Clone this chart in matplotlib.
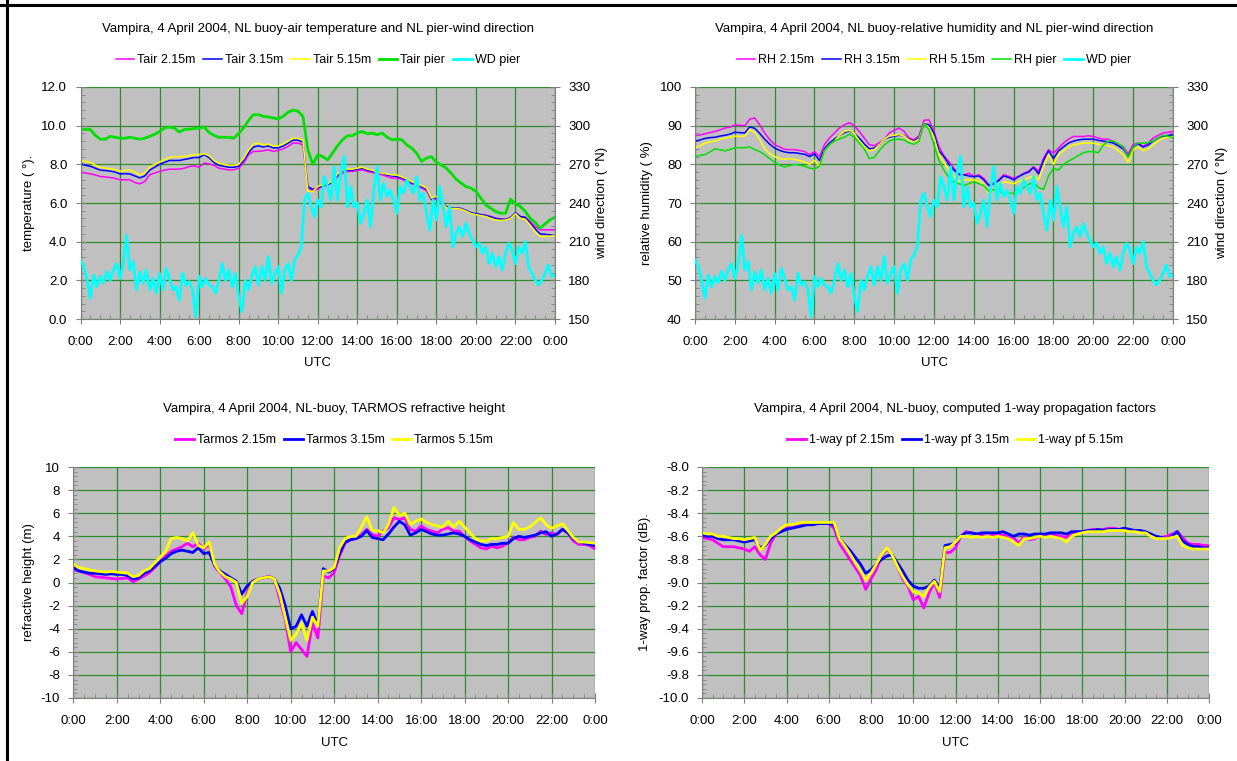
import numpy as np
import matplotlib
matplotlib.use('Agg')
import matplotlib.pyplot as plt
from matplotlib.ticker import MultipleLocator, FormatStrFormatter
from matplotlib.lines import Line2D

plt.rcParams['font.family'] = ['Liberation Sans', 'DejaVu Sans']
plt.rcParams['axes.unicode_minus'] = False

# ---------------- data ----------------
# 15-minute samples 0:00 .. 24:00 (97 values), wind direction at 10-minute samples (145 values)
hours_15 = np.arange(97) * 0.25
hours_10 = np.arange(145) / 6.0
time_ticks = list(range(0, 25, 2))
time_labels = ['0:00', '2:00', '4:00', '6:00', '8:00', '10:00', '12:00', '14:00',
               '16:00', '18:00', '20:00', '22:00', '0:00']

tair_215 = [7.6, 7.55, 7.51, 7.45, 7.37, 7.35, 7.32, 7.27, 7.2, 7.2, 7.2, 7.06,
            6.99, 7.11, 7.46, 7.55, 7.63, 7.7, 7.75, 7.75, 7.75, 7.8, 7.89, 7.92,
            7.85, 8.06, 8.03, 7.95, 7.8, 7.75, 7.72, 7.72, 7.8, 8.06, 8.49, 8.67,
            8.67, 8.7, 8.75, 8.67, 8.72, 8.8, 8.93, 9.1, 9.1, 9.01, 6.77, 6.65,
            6.72, 6.85, 6.94, 7.06, 7.37, 7.54, 7.63, 7.63, 7.68, 7.72, 7.63, 7.58,
            7.51, 7.46, 7.37, 7.29, 7.29, 7.23, 7.11, 6.99, 6.89, 6.77, 6.65, 6.16,
            6.2, 6.08, 5.78, 5.73, 5.73, 5.68, 5.59, 5.47, 5.42, 5.4, 5.38, 5.3,
            5.21, 5.18, 5.16, 5.21, 5.47, 5.3, 5.26, 5.04, 4.78, 4.61, 4.61, 4.61, 4.61]
tair_315 = [8.03, 7.95, 7.9, 7.8, 7.7, 7.68, 7.65, 7.6, 7.5, 7.52, 7.5, 7.4,
            7.3, 7.4, 7.7, 7.85, 8.0, 8.1, 8.2, 8.2, 8.2, 8.25, 8.3, 8.35,
            8.35, 8.5, 8.35, 8.1, 7.95, 7.9, 7.85, 7.85, 7.9, 8.2, 8.6, 8.9,
            8.95, 8.9, 8.95, 8.85, 8.85, 8.95, 9.1, 9.25, 9.25, 9.15, 6.85, 6.7,
            6.8, 6.9, 6.95, 7.1, 7.45, 7.65, 7.7, 7.7, 7.75, 7.8, 7.7, 7.65,
            7.6, 7.55, 7.45, 7.4, 7.38, 7.3, 7.2, 7.05, 6.95, 6.85, 6.72, 6.2,
            6.3, 6.1, 5.8, 5.75, 5.75, 5.72, 5.62, 5.5, 5.45, 5.4, 5.35, 5.28,
            5.2, 5.15, 5.15, 5.25, 5.5, 5.3, 5.25, 4.95, 4.65, 4.4, 4.38, 4.35, 4.35]
tair_515 = [8.2, 8.15, 8.1, 7.95, 7.85, 7.8, 7.78, 7.72, 7.65, 7.68, 7.7, 7.6,
            7.45, 7.55, 7.85, 8.0, 8.12, 8.25, 8.35, 8.4, 8.4, 8.4, 8.45, 8.5,
            8.5, 8.55, 8.45, 8.2, 8.05, 8.0, 7.95, 7.95, 8.0, 8.3, 8.75, 9.05,
            9.1, 9.0, 9.05, 8.95, 8.95, 9.05, 9.2, 9.35, 9.35, 9.25, 6.6, 6.6,
            6.85, 6.95, 7.0, 7.15, 7.5, 7.7, 7.75, 7.75, 7.8, 7.85, 7.75, 7.7,
            7.6, 7.55, 7.5, 7.45, 7.45, 7.35, 7.25, 7.1, 7.0, 6.9, 6.78, 6.25,
            6.35, 6.1, 5.75, 5.72, 5.72, 5.68, 5.58, 5.45, 5.4, 5.35, 5.3, 5.2,
            5.12, 5.1, 5.12, 5.2, 5.45, 5.2, 5.15, 4.85, 4.5, 4.25, 4.28, 4.28, 4.3]
tair_pier = [9.82, 9.8, 9.8, 9.5, 9.3, 9.3, 9.45, 9.4, 9.35, 9.35, 9.4, 9.35,
             9.3, 9.35, 9.45, 9.55, 9.7, 9.88, 9.93, 9.88, 9.67, 9.8, 9.82, 9.85,
             9.88, 9.93, 9.65, 9.5, 9.4, 9.4, 9.4, 9.35, 9.6, 9.88, 10.27, 10.57,
             10.57, 10.48, 10.45, 10.4, 10.35, 10.48, 10.7, 10.8, 10.75, 10.48, 8.75, 8.0,
             8.5, 8.4, 8.23, 8.58, 8.96, 9.27, 9.48, 9.48, 9.62, 9.7, 9.58, 9.62,
             9.53, 9.62, 9.41, 9.27, 9.3, 9.27, 9.01, 8.84, 8.58, 8.15, 8.32, 8.4,
             8.1, 7.97, 7.8, 7.54, 7.23, 7.03, 6.85, 6.77, 6.6, 6.25, 5.9, 5.73,
             5.56, 5.47, 5.47, 6.2, 5.95, 5.82, 5.56, 5.2, 4.99, 4.7, 4.92, 5.13, 5.27]

wd_pier = [195.8, 190.6, 180, 166, 184, 175, 183, 178, 187, 180, 188, 193,
           181.5, 193, 215, 188, 194.5, 172.5, 186.7, 177.7, 188, 172.5, 181.5, 170,
           185.4, 172.5, 189.3, 181.5, 172.5, 175, 164.7, 185.4, 176.4, 179, 172.5, 151.8,
           183, 175, 181.5, 176.4, 175, 170, 180, 193, 180, 188, 175, 185.4,
           167.3, 155.7, 180, 172.5, 183, 190.6, 176.4, 190.6, 180, 198.4, 177.7, 185.4,
           190.6, 170, 188, 193, 180, 195.8, 199.7, 206, 242.3, 247.5, 237, 229.4,
           242.3, 237, 260.4, 252.7, 242.3, 268.1, 242.3, 263.3, 276.2, 237, 252.7, 237,
           240, 224.2, 232, 242.3, 221.6, 250, 268.1, 242.3, 255.3, 245, 250, 242.3,
           232, 252.7, 247.5, 257.8, 252.7, 247.5, 260.4, 242.3, 247.5, 232, 219, 242.3,
           226.8, 252.7, 237, 221.6, 237, 206, 216.5, 221.6, 214, 224.2, 216.5, 211.3,
           206, 208.7, 201, 206, 193, 201, 190.6, 198.4, 188, 201, 208.7, 203.5,
           193, 206, 201, 210, 190.6, 185.4, 180, 176.4, 180, 185.4, 192, 183, 184]

rh_215 = [87.4, 87.6, 87.9, 88.2, 88.5, 88.9, 89.4, 89.6, 90.2, 90.1, 90.0, 91.7,
          92.0, 90.2, 88.1, 86.4, 85.1, 84.5, 83.9, 83.8, 83.8, 83.6, 83.3, 82.5,
          83.3, 82.0, 85.1, 86.8, 88.1, 89.4, 90.2, 90.8, 90.0, 88.5, 86.8, 85.1,
          84.8, 85.6, 86.4, 88.1, 88.8, 89.4, 88.5, 86.8, 86.4, 87.4, 91.4, 91.5,
          88.5, 84.6, 82.2, 80.7, 79.0, 77.3, 77.3, 77.7, 76.9, 77.3, 76.4, 74.7,
          75.1, 76.0, 77.3, 76.9, 76.4, 76.9, 77.7, 78.2, 79.4, 78.2, 81.6, 83.8,
          82.9, 84.2, 85.5, 86.5, 87.2, 87.2, 87.2, 87.4, 87.2, 86.8, 86.5, 86.5,
          85.9, 85.2, 84.6, 82.7, 85.1, 85.5, 84.6, 85.5, 86.8, 87.5, 88.1, 88.3, 88.5]
rh_315 = [86.0, 86.3, 86.7, 86.9, 87.0, 87.3, 87.5, 87.8, 88.3, 88.2, 88.1, 89.7,
          89.3, 88.0, 86.5, 85.2, 84.2, 83.6, 83.2, 83.0, 83.0, 82.8, 82.6, 82.0,
          82.7, 81.0, 84.0, 85.5, 86.5, 87.5, 88.2, 88.6, 88.0, 86.8, 85.3, 84.0,
          84.2, 85.0, 86.5, 87.0, 87.3, 87.5, 87.4, 86.5, 86.0, 86.8, 90.5, 90.2,
          88.0, 83.5, 82.0, 80.0, 78.5, 77.5, 77.3, 77.0, 76.8, 77.0, 76.0, 74.5,
          75.0, 75.8, 77.0, 76.6, 76.0, 76.8, 77.5, 78.0, 79.2, 77.5, 81.0, 83.5,
          81.5, 83.5, 84.5, 85.5, 86.0, 86.3, 86.5, 86.5, 86.5, 86.2, 86.0, 85.8,
          85.5, 84.8, 84.0, 82.0, 84.5, 85.3, 84.5, 85.0, 86.0, 86.8, 87.3, 87.5, 87.6]
rh_515 = [84.3, 84.8, 85.5, 85.8, 86.0, 86.5, 86.8, 87.0, 87.3, 87.2, 87.3, 89.0,
          88.3, 86.5, 84.0, 82.8, 82.0, 81.5, 81.3, 81.5, 81.3, 81.0, 80.6, 80.0,
          81.0, 79.5, 83.5, 85.0, 86.0, 87.5, 88.5, 88.8, 88.0, 86.0, 84.5, 83.5,
          83.8, 85.0, 86.5, 87.3, 87.5, 87.7, 87.3, 86.3, 85.8, 86.5, 90.5, 89.5,
          87.0, 82.5, 80.5, 78.5, 77.0, 75.5, 76.0, 76.0, 76.0, 75.8, 74.8, 72.5,
          73.5, 74.5, 75.5, 75.3, 75.0, 75.5, 76.0, 76.5, 77.0, 76.0, 79.5, 82.5,
          80.0, 82.5, 83.5, 84.5, 85.0, 85.3, 85.5, 85.5, 85.5, 85.2, 85.0, 84.8,
          84.5, 83.5, 82.5, 80.5, 83.8, 84.5, 83.5, 84.0, 85.0, 86.0, 86.8, 87.0, 87.0]
rh_pier = [82.0, 82.3, 82.5, 83.2, 84.0, 83.8, 83.5, 83.8, 84.3, 84.3, 84.3, 84.5,
           83.8, 83.3, 82.5, 81.5, 80.5, 79.8, 79.3, 79.7, 80.0, 79.8, 79.5, 79.0,
           78.8, 79.5, 83.5, 85.0, 86.0, 86.6, 87.0, 87.8, 87.0, 85.5, 84.0, 81.5,
           81.8, 83.5, 85.0, 86.0, 86.5, 86.5, 86.3, 85.5, 85.2, 86.0, 90.5, 89.0,
           85.0, 81.0, 78.5, 76.5, 75.5, 75.0, 74.5, 75.0, 75.5, 75.0, 74.5, 73.0,
           73.5, 73.0, 72.5, 72.5, 72.5, 73.3, 74.0, 74.8, 75.5, 74.0, 73.5, 77.0,
           79.0, 78.5, 80.0, 80.8, 81.5, 82.3, 83.0, 83.3, 83.3, 83.0, 85.0, 86.0,
           86.0, 85.3, 84.5, 81.8, 84.5, 85.5, 85.5, 85.6, 86.0, 86.8, 87.5, 87.3, 86.8]

tarmos_215 = [1.1, 1.0, 0.85, 0.7, 0.5, 0.45, 0.4, 0.35, 0.3, 0.35, 0.4, 0.05,
              0.3, 0.55, 0.85, 1.3, 1.8, 2.3, 2.7, 2.9, 3.1, 3.4, 3.1, 3.4,
              2.9, 3.3, 1.4, 0.85, 0.3, -0.4, -2.0, -2.7, -0.9, 0.1, 0.3, 0.4,
              0.55, 0.3, -1.45, -3.2, -6.0, -5.2, -5.8, -6.4, -3.5, -4.8, 0.55, 0.4,
              0.85, 2.3, 3.4, 3.7, 3.8, 4.15, 4.6, 4.15, 4.0, 4.45, 4.75, 5.6,
              5.45, 5.6, 4.6, 4.45, 4.9, 4.6, 4.45, 4.3, 4.6, 4.75, 4.45, 4.45,
              4.0, 3.6, 3.3, 3.0, 2.9, 3.15, 3.0, 3.15, 3.45, 3.9, 3.7, 3.7,
              3.9, 4.0, 4.45, 4.15, 4.3, 4.15, 4.6, 4.3, 3.6, 3.3, 3.3, 3.2, 2.9]
tarmos_315 = [1.3, 1.0, 0.9, 0.8, 0.8, 0.75, 0.7, 0.75, 0.7, 0.7, 0.6, 0.3,
              0.4, 0.8, 1.0, 1.4, 1.8, 2.1, 2.5, 2.7, 2.8, 2.7, 2.6, 3.0,
              2.5, 2.6, 1.5, 1.0, 0.7, 0.4, 0.1, -1.0, -0.3, 0.1, 0.3, 0.4,
              0.5, 0.3, -0.5, -2.0, -4.0, -3.8, -2.8, -3.8, -2.5, -3.7, 1.2, 0.9,
              1.2, 2.5, 3.5, 3.7, 3.8, 4.0, 4.5, 3.9, 3.8, 3.7, 4.2, 4.8,
              5.3, 5.0, 4.1, 4.3, 4.6, 4.4, 4.2, 4.1, 4.1, 4.2, 4.3, 4.2,
              4.0, 3.7, 3.5, 3.3, 3.2, 3.3, 3.3, 3.4, 3.4, 3.8, 4.0, 3.9,
              4.0, 4.1, 4.3, 4.4, 4.0, 4.2, 4.6, 4.3, 3.8, 3.5, 3.4, 3.3, 3.2]
tarmos_515 = [1.6, 1.3, 1.2, 1.1, 1.0, 0.95, 0.9, 0.95, 0.9, 0.85, 0.8, 0.5,
              0.6, 1.0, 1.2, 1.7, 2.2, 2.7, 3.8, 3.9, 3.8, 3.6, 4.3, 3.2,
              3.0, 3.5, 1.6, 0.9, 0.5, 0.3, 0.0, -1.8, -1.2, 0.0, 0.3, 0.4,
              0.5, 0.3, -1.0, -3.0, -5.0, -4.5, -3.5, -5.0, -3.0, -3.8, 1.0, 1.0,
              1.3, 3.0, 3.8, 4.0, 4.0, 4.8, 5.7, 4.5, 4.5, 4.3, 5.0, 6.5,
              5.8, 6.0, 5.0, 5.3, 5.5, 5.2, 5.0, 4.9, 4.8, 5.3, 4.8, 5.3,
              4.8, 4.3, 3.8, 3.6, 3.6, 3.8, 3.8, 3.9, 4.0, 5.2, 4.6, 4.6,
              4.8, 5.2, 5.6, 5.0, 4.7, 4.9, 5.1, 4.5, 3.9, 3.5, 3.5, 3.45, 3.4]

pf_215 = [-8.61, -8.62, -8.63, -8.66, -8.69, -8.69, -8.69, -8.70, -8.71, -8.73, -8.69, -8.76,
          -8.80, -8.66, -8.58, -8.55, -8.53, -8.52, -8.51, -8.50, -8.49, -8.49, -8.48, -8.49,
          -8.49, -8.53, -8.66, -8.73, -8.80, -8.87, -8.94, -9.06, -8.97, -8.89, -8.77, -8.71,
          -8.76, -8.86, -8.97, -9.03, -9.15, -9.12, -9.22, -9.09, -9.00, -9.13, -8.74, -8.74,
          -8.70, -8.60, -8.56, -8.57, -8.58, -8.59, -8.60, -8.59, -8.58, -8.59, -8.60, -8.61,
          -8.66, -8.60, -8.63, -8.62, -8.60, -8.59, -8.58, -8.59, -8.60, -8.61, -8.57, -8.56,
          -8.56, -8.55, -8.54, -8.55, -8.54, -8.53, -8.53, -8.54, -8.54, -8.55, -8.55, -8.56,
          -8.57, -8.59, -8.61, -8.61, -8.60, -8.58, -8.56, -8.61, -8.66, -8.67, -8.67, -8.68, -8.68]
pf_315 = [-8.59, -8.60, -8.60, -8.62, -8.63, -8.63, -8.63, -8.64, -8.65, -8.64, -8.63, -8.70,
          -8.68, -8.62, -8.58, -8.56, -8.54, -8.53, -8.52, -8.51, -8.50, -8.50, -8.49, -8.49,
          -8.49, -8.50, -8.62, -8.67, -8.72, -8.78, -8.84, -8.92, -8.89, -8.84, -8.80, -8.77,
          -8.76, -8.83, -8.90, -8.98, -9.03, -9.05, -9.05, -9.03, -8.98, -9.05, -8.68, -8.67,
          -8.66, -8.60, -8.57, -8.57, -8.58, -8.57, -8.57, -8.57, -8.57, -8.56, -8.58, -8.60,
          -8.58, -8.58, -8.59, -8.58, -8.58, -8.58, -8.57, -8.57, -8.57, -8.58, -8.56, -8.56,
          -8.56, -8.55, -8.55, -8.54, -8.55, -8.54, -8.54, -8.54, -8.53, -8.54, -8.55, -8.55,
          -8.56, -8.58, -8.60, -8.61, -8.62, -8.60, -8.56, -8.64, -8.67, -8.69, -8.69, -8.70, -8.70]
pf_515 = [-8.57, -8.58, -8.58, -8.60, -8.60, -8.61, -8.62, -8.62, -8.63, -8.62, -8.61, -8.72,
          -8.67, -8.60, -8.57, -8.53, -8.50, -8.50, -8.49, -8.48, -8.48, -8.48, -8.48, -8.48,
          -8.48, -8.48, -8.62, -8.68, -8.75, -8.83, -8.90, -8.98, -8.92, -8.84, -8.76, -8.70,
          -8.76, -8.86, -8.95, -9.02, -9.08, -9.09, -9.12, -9.04, -8.99, -9.08, -8.70, -8.69,
          -8.65, -8.60, -8.60, -8.61, -8.60, -8.61, -8.60, -8.61, -8.60, -8.61, -8.62, -8.65,
          -8.68, -8.62, -8.62, -8.61, -8.60, -8.61, -8.60, -8.61, -8.62, -8.65, -8.60, -8.58,
          -8.57, -8.56, -8.56, -8.56, -8.56, -8.55, -8.55, -8.55, -8.55, -8.56, -8.56, -8.57,
          -8.57, -8.60, -8.62, -8.62, -8.62, -8.61, -8.60, -8.68, -8.70, -8.71, -8.71, -8.71, -8.71]

# ---------------- figure ----------------
W, H = 1237, 761
fig = plt.figure(figsize=(W / 100, H / 100), dpi=100)
fig.patch.set_facecolor('white')

MAG, BLU, YEL, GRN, CYA = '#FF00FF', '#0000FF', '#FFFF00', '#00E000', '#00FFFF'
GRID = '#2E8B2E'
SPINE = '#808080'
TICK_FS = 9.5
LAB_FS = 9.5
TITLE_FS = 9.5
LEG_FS = 9


def px_axes(l, r, t, b):
    return fig.add_axes([l / W, 1 - b / H, (r - l) / W, (b - t) / H])


def style(ax, ylim, major, minor, fmt):
    ax.set_facecolor('#C0C0C0')
    ax.set_xlim(0, 24)
    ax.set_xticks(time_ticks)
    ax.set_xticklabels(time_labels)
    ax.xaxis.set_minor_locator(MultipleLocator(0.5))
    ax.set_ylim(*ylim)
    ax.yaxis.set_major_locator(MultipleLocator(major))
    ax.yaxis.set_minor_locator(MultipleLocator(minor))
    ax.yaxis.set_major_formatter(FormatStrFormatter(fmt))
    ax.grid(which='major', color=GRID, lw=0.9)
    for s in ('top', 'right'):
        ax.spines[s].set_visible(False)
    for s in ('left', 'bottom'):
        ax.spines[s].set_color(SPINE)
    ax.tick_params(which='major', direction='inout', length=7, color=SPINE, labelsize=TICK_FS)
    ax.tick_params(which='minor', direction='in', length=3, color=SPINE)
    ax.tick_params(axis='x', which='major', pad=9)
    ax.tick_params(axis='y', which='major', pad=6)


def style_right(ax2):
    ax2.set_ylim(150, 330)
    ax2.yaxis.set_major_locator(MultipleLocator(30))
    ax2.yaxis.set_minor_locator(MultipleLocator(6))
    for s in ('top', 'left', 'bottom'):
        ax2.spines[s].set_visible(False)
    ax2.spines['right'].set_color(SPINE)
    ax2.tick_params(which='major', direction='inout', length=7, color=SPINE, labelsize=TICK_FS, pad=6)
    ax2.tick_params(which='minor', direction='in', length=3, color=SPINE)


def texts(l, r, t, b, title, ytitle_y, leg_y, utc_y, left_label, left_x, right_label=None, right_x=None):
    cx = (l + r) / 2 / W
    fig.text(cx, 1 - ytitle_y / H, title, ha='center', va='center', fontsize=TITLE_FS)
    fig.text(cx, 1 - utc_y / H, 'UTC', ha='center', va='center', fontsize=LAB_FS)
    cy = 1 - (t + b) / 2 / H
    fig.text(left_x / W, cy, left_label, ha='center', va='center', rotation=90, fontsize=LAB_FS)
    if right_label:
        fig.text(right_x / W, cy, right_label, ha='center', va='center', rotation=90, fontsize=LAB_FS)
    return cx, 1 - leg_y / H


def legend(ax, handles, labels, cx, cy, ncol):
    ax.legend(handles, labels, loc='center', bbox_to_anchor=(cx, cy), bbox_transform=fig.transFigure,
              ncol=ncol, frameon=False, fontsize=LEG_FS, handlelength=1.5, handletextpad=0.25,
              columnspacing=0.6, borderaxespad=0, borderpad=0)


# ---- Panel 1: air temperature + wind direction ----
b1 = (80.5, 555, 87, 319)
ax1 = px_axes(*b1)
style(ax1, (0, 12), 2, 0.4, '%.1f')
l1, = ax1.plot(hours_15, tair_215, color=MAG, lw=1.1)
l2, = ax1.plot(hours_15, tair_315, color=BLU, lw=1.1)
l3, = ax1.plot(hours_15, tair_515, color=YEL, lw=1.1)
l4, = ax1.plot(hours_15, tair_pier, color=GRN, lw=2)
ax1r = ax1.twinx()
style_right(ax1r)
l5, = ax1r.plot(hours_10, wd_pier, color=CYA, lw=2)
cx, cy = texts(*b1, 'Vampira, 4 April 2004, NL buoy-air temperature and NL pier-wind direction',
               29, 60, 363, 'temperature ( °).', 29, 'wind direction ( °N)', 602)
legend(ax1, [l1, l2, l3, l4, l5], ['Tair 2.15m', 'Tair 3.15m', 'Tair 5.15m', 'Tair pier', 'WD pier'], cx, cy, 5)

# ---- Panel 2: relative humidity + wind direction ----
b2 = (695, 1173, 87, 319)
ax2 = px_axes(*b2)
style(ax2, (40, 100), 10, 2, '%d')
m1, = ax2.plot(hours_15, rh_215, color=MAG, lw=1.1)
m2, = ax2.plot(hours_15, rh_315, color=BLU, lw=1.1)
m3, = ax2.plot(hours_15, rh_515, color=YEL, lw=1.1)
m4, = ax2.plot(hours_15, rh_pier, color=GRN, lw=1.1)
ax2r = ax2.twinx()
style_right(ax2r)
m5, = ax2r.plot(hours_10, wd_pier, color=CYA, lw=2)
cx, cy = texts(*b2, 'Vampira, 4 April 2004, NL buoy-relative humidity and NL pier-wind direction',
               29, 60, 363, 'relative humidity ( %)', 647, 'wind direction ( °N)', 1222)
legend(ax2, [m1, m2, m3, m4, m5], ['RH 2.15m', 'RH 3.15m', 'RH 5.15m', 'RH pier', 'WD pier'], cx, cy, 5)

# ---- Panel 3: refractive height ----
b3 = (73.3, 595, 467, 698)
ax3 = px_axes(*b3)
style(ax3, (-10, 10), 2, 0.4, '%d')
n1, = ax3.plot(hours_15, tarmos_215, color=MAG, lw=2)
n2, = ax3.plot(hours_15, tarmos_315, color=BLU, lw=2)
n3, = ax3.plot(hours_15, tarmos_515, color=YEL, lw=2)
cx, cy = texts(*b3, 'Vampira, 4 April 2004, NL-buoy, TARMOS refractive height',
               409, 440, 743, 'refractive height (m)', 29)
legend(ax3, [n1, n2, n3], ['Tarmos 2.15m', 'Tarmos 3.15m', 'Tarmos 5.15m'], cx, cy, 3)

# ---- Panel 4: propagation factors ----
b4 = (702, 1209, 467, 698)
ax4 = px_axes(*b4)
style(ax4, (-10, -8), 0.2, 0.04, '%.1f')
p1, = ax4.plot(hours_15, pf_215, color=MAG, lw=2)
p2, = ax4.plot(hours_15, pf_315, color=BLU, lw=2)
p3, = ax4.plot(hours_15, pf_515, color=YEL, lw=2)
cx, cy = texts(*b4, 'Vampira, 4 April 2004, NL-buoy, computed 1-way propagation factors',
               409, 440, 743, '1-way prop. factor (dB).', 645)
legend(ax4, [p1, p2, p3], ['1-way pf 2.15m', '1-way pf 3.15m', '1-way pf 5.15m'], cx, cy, 3)

# page frame (top and left edges)
fig.add_artist(Line2D([0, 1], [1 - 4.5 / H, 1 - 4.5 / H], transform=fig.transFigure, color='black', lw=2.2))
fig.add_artist(Line2D([6.5 / W, 6.5 / W], [0, 1], transform=fig.transFigure, color='black', lw=2.2))

fig.savefig('out.png', dpi=100, facecolor='white')
